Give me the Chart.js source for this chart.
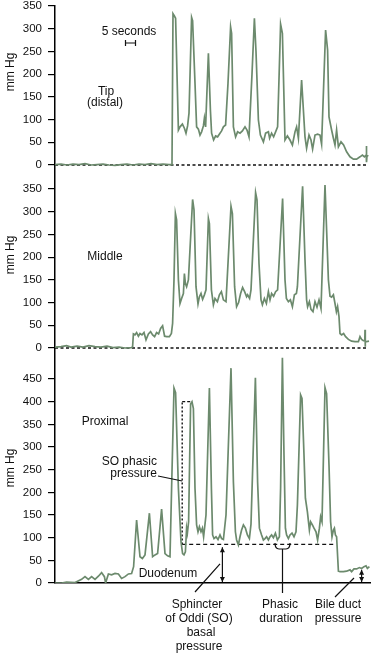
<!DOCTYPE html>
<html>
<head>
<meta charset="utf-8">
<script src="https://cdn.jsdelivr.net/npm/chart.js@4.4.0/dist/chart.umd.min.js"></script>
<style>
html, body { margin: 0; padding: 0; background: #fff; }
#wrap { position: relative; width: 375px; height: 656px; overflow: hidden; }
canvas { position: absolute; left: 0; }
</style>
</head>
<body>
<div id="wrap">
  <canvas id="tip" width="375" height="180" style="top:0px"></canvas>
  <canvas id="middle" width="375" height="175" style="top:180px"></canvas>
  <canvas id="proximal" width="375" height="301" style="top:355px"></canvas>
</div>
<script>
// tempo em segundos, pressao em mm Hg
const tipTime = [0,3,6,9,12,15,18,21,24,27,30,33,36,39,42,45,48,51,54,57,58.5,59,59.7,60.3,61.7,62.5,63.7,64.7,65.5,66.3,67,68.3,68.8,70,70.8,71.7,72.5,73.3,74.2,74.7,75.3,76.7,77.7,78.3,79.3,80.3,81.3,82.5,83.3,84.2,85.3,86.5,87.8,88.3,89.2,90.3,91.3,92.5,93.7,95,96,97,98.5,99.7,100.5,101.7,102.7,104.2,105.3,106.7,107.3,108.3,109.3,110.3,111.3,112.8,113.7,115,116.2,117.5,118.7,120,120.8,121.7,123.3,125,125.8,127,128,128.8,130,131.3,132.5,133.3,135.3,136.3,137,138.3,139.2,140,140.8,141.7,143,144.3,145.8,147.5,149.2,150.8,152.5,153.7,154.7,155.6,155.7,155.8,156,156.7]
const tipPressure = [1,2,0,2,1,3,0,1,2,0,-1,1,2,0,2,1,3,1,2,1,1,333,328,323,77,84,90,81,70,86,114,325,318,180,84,79,66,73,86,103,84,246,121,70,55,64,62,70,75,84,88,180,304,290,84,62,73,70,75,84,77,62,200,323,250,99,66,51,70,73,59,70,62,73,84,310,290,55,64,55,44,73,84,59,187,62,37,66,55,35,66,68,66,46,297,253,106,77,59,44,77,40,51,44,29,18,13,13,18,22,18,22,42,6,21,20]

const middleTime = [0,3,5.8,8,11,14,17,20,23,26,29,32,35,38.3,38.8,39.2,40,40.8,41.7,42.5,43.5,44.5,45.5,46.7,47.8,48.8,49.8,50.8,51.8,52.8,53.8,54.8,55.8,57.2,58.2,58.8,59.5,60.2,60.8,61.7,62.5,63.3,64.2,64.7,65.2,65.8,66.7,68.8,69.5,70.5,71.5,72.2,73,73.8,74.7,75.5,76.7,77.2,78.2,79.2,80,81.2,82.2,83.2,84.2,85.5,88,88.7,89.8,90.8,91.8,92.8,93.8,94.8,95.8,96.3,97.3,98,100.3,101,102,103,103.7,104.7,105.7,106.7,107.5,108.3,109.3,110.3,111.3,113.8,115,115.7,116.7,117.7,118.7,119.7,120.7,121.2,123.8,125,125.8,126.3,127.2,128,129,130,131,132,133,135,136.7,137.5,138.3,139.2,140,140.7,141.3,142,142.5,143.3,144.3,145.3,146.7,148.3,150,151.7,152.5,153.3,154.2,154.9,155,155.1,155.2,155.8,157]
const middlePressure = [2,3,5,2,4,2,5,3,2,4,1,2,0,1,3,31,29,34,26,32,29,34,18,31,36,29,25,34,31,43,49,26,25,25,32,54,150,296,282,150,98,109,120,164,142,135,150,327,304,135,97,113,120,107,117,128,285,274,128,95,109,102,117,124,106,102,312,296,135,91,100,120,133,124,113,117,109,128,342,326,186,106,95,109,98,124,106,120,114,124,128,329,150,109,102,106,91,117,120,135,356,194,106,91,102,85,80,102,90,106,87,359,150,114,112,117,98,80,91,69,32,29,32,25,19,15,14,14,25,19,16,16,40,3,15,14,15]

const proximalTime = [0,3.3,5.8,10,13.3,15,16.7,18.3,20,21.7,23.3,24.7,25.3,26.7,28.3,30,31.7,33.3,35,36.7,38.3,39.3,40.8,42.5,43.7,45,47.2,48.8,50,51.3,53.3,55,56.3,57.5,58.3,59.5,60.3,61.7,63,63.8,64.5,65.2,65.8,66.2,66.8,67.8,68.5,69.2,70,70.8,71.5,72.2,73,73.7,74.3,75.5,77.2,78.2,78.8,79.5,80.5,81.5,82.5,83.3,84.2,85.5,88,89.2,90.2,90.8,91.7,92.5,93.3,94.2,95.2,96.2,97.2,98,100.2,101.3,102.2,103.3,104.2,105,105.8,106.7,107.5,108.3,109.2,110.2,111.2,112.2,112.8,113.7,114.5,115.2,115.8,116.7,117.5,118.5,119.5,120.5,121.2,122.8,123.5,124.5,125.2,126.2,127.2,127.8,128.7,129.5,130.5,131.3,132.2,132.8,133.5,135,135.8,137,137.8,138.5,139.2,139.7,140.2,140.8,141.7,142.5,144.2,145.8,147.5,148.3,149.5,150.8,152.2,153.3,154.5,155.5,156.2,157.2]
const proximalPressure = [0,0,2,1,8,14,8,14,8,15,23,14,0,20,18,21,20,10,14,20,21,36,139,58,54,62,154,58,62,65,163,65,60,58,209,430,420,209,91,65,62,69,121,110,135,395,400,385,209,128,113,124,113,121,102,150,430,209,106,98,102,96,106,98,96,150,474,223,113,95,84,102,117,128,121,106,98,130,453,223,121,106,95,98,102,95,102,106,100,110,95,102,209,497,282,121,106,98,106,110,102,113,172,415,407,282,187,157,117,135,128,121,113,95,121,146,135,431,418,260,135,102,117,121,106,102,26,25,25,26,29,25,31,31,34,32,36,38,32,36]

const ticks350 = [0, 50, 100, 150, 200, 250, 300, 350]
const ticks450 = [0, 50, 100, 150, 200, 250, 300, 350, 400, 450]

const tempoMax = 157.5
const fimLinhaZero = 156.5
const escalaInicio = 35.25      // barra de 5 segundos
const escalaDuracao = 5
const basalPressure = 85        // SO basal
const phasicTop = 400           // SO phasic
const phasicStart = 63.6
const phasicPeakEnd = 68.3
const basalEnd = 140
const duracaoInicio = 110
const duracaoFim = 117.5
const setaBasalTempo = 83.7
const bileTempo = 153.3
const bilePressure = 29

const cor_traco = '#6c8a6d'
const fonte = '"Liberation Sans", Arial, sans-serif'

function serie(tempos, valores){
    return tempos.map((t, i) => ({x: t, y: valores[i]}))
}

function traco(tempos, valores){
    return { data: serie(tempos, valores), borderColor: cor_traco, borderWidth: 1.7, order: 0 }
}

function tracejado(pontos, dash, largura){
    return { data: pontos, borderColor: '#111', borderWidth: largura, borderDash: dash, order: 1 }
}

function rotulo_mmhg(ctx, y){
    ctx.save()
    ctx.translate(11, y)
    ctx.rotate(-Math.PI / 2)
    ctx.textAlign = 'center'
    ctx.textBaseline = 'middle'
    ctx.font = '12px ' + fonte
    ctx.fillStyle = '#111'
    ctx.fillText('mm Hg', 0, 0)
    ctx.restore()
}

function texto(ctx, s, x, y, align){
    ctx.textAlign = align || 'center'
    ctx.fillText(s, x, y)
}

function seta_dupla(ctx, x, y1, y2){
    ctx.beginPath()
    ctx.moveTo(x, y1); ctx.lineTo(x, y2)
    ctx.stroke()
    ctx.beginPath()
    ctx.moveTo(x, y1); ctx.lineTo(x - 2.5, y1 + 5); ctx.lineTo(x + 2.5, y1 + 5); ctx.closePath()
    ctx.moveTo(x, y2); ctx.lineTo(x - 2.5, y2 - 5); ctx.lineTo(x + 2.5, y2 - 5); ctx.closePath()
    ctx.fill()
}

function renderiza_painel(id, datasets, yMin, yMax, yTicks, padTop, padBottom, mostraEixoX, desenho){
    const ctx = document.getElementById(id).getContext('2d')
    return new Chart(ctx, {
        type: 'line',
        data: { datasets: datasets },
        options: {
            responsive: false,
            animation: false,
            events: [],
            layout: { padding: { top: padTop, bottom: padBottom, left: 0, right: 5 } },
            plugins: { legend: { display: false }, tooltip: { enabled: false } },
            elements: { point: { radius: 0 }, line: { tension: 0 } },
            scales: {
                x: {
                    type: 'linear', min: 0, max: tempoMax, display: mostraEixoX,
                    ticks: { display: false },
                    grid: { display: false },
                    border: { display: true, color: '#000', width: 1.5 },
                    afterFit: s => { s.height = 0 }
                },
                y: {
                    min: yMin, max: yMax,
                    afterBuildTicks: s => { s.ticks = yTicks.map(v => ({ value: v })) },
                    afterFit: s => { s.width = 55; s.paddingTop = 0; s.paddingBottom = 0 },
                    ticks: { color: '#111', font: { family: fonte, size: 11.5 }, padding: 6 },
                    grid: { drawOnChartArea: false, drawTicks: true, tickLength: 7, color: '#000', lineWidth: 1.2 },
                    border: { display: true, color: '#000', width: 1.5 }
                }
            }
        },
        plugins: [{ id: 'anot_' + id, afterDraw: desenho }]
    })
}

const linhaZero = [{ x: 0, y: 0 }, { x: fimLinhaZero, y: 0 }]

renderiza_painel('tip',
    [traco(tipTime, tipPressure), tracejado(linhaZero, [3, 2.5], 1.3)],
    -33, 350, ticks350, 6, 0, false,
    function(chart){
        const {ctx, scales: {x}} = chart
        ctx.save()
        ctx.fillStyle = '#111'
        ctx.strokeStyle = '#111'
        ctx.font = '12px ' + fonte
        ctx.textBaseline = 'middle'
        texto(ctx, '5 seconds', 129, 32)
        texto(ctx, 'Tip', 106, 92)
        texto(ctx, '(distal)', 105, 103)
        const x1 = x.getPixelForValue(escalaInicio)
        const x2 = x.getPixelForValue(escalaInicio + escalaDuracao)
        ctx.lineWidth = 1.2
        ctx.beginPath()
        ctx.moveTo(x1, 43); ctx.lineTo(x2, 43)
        ctx.moveTo(x1, 40); ctx.lineTo(x1, 46)
        ctx.moveTo(x2, 40); ctx.lineTo(x2, 46)
        ctx.stroke()
        rotulo_mmhg(ctx, 72)
        ctx.restore()
    })

renderiza_painel('middle',
    [traco(middleTime, middlePressure), tracejado(linhaZero, [3, 2.5], 1.3)],
    -15.4, 369.8, ticks350, 0, 0, false,
    function(chart){
        const {ctx} = chart
        ctx.save()
        ctx.fillStyle = '#111'
        ctx.font = '12px ' + fonte
        ctx.textBaseline = 'middle'
        texto(ctx, 'Middle', 105, 77)
        rotulo_mmhg(ctx, 75)
        ctx.restore()
    })

renderiza_painel('proximal',
    [traco(proximalTime, proximalPressure),
     tracejado([{ x: phasicStart, y: basalPressure }, { x: phasicStart, y: phasicTop }], [2, 2], 1.4),
     tracejado([{ x: phasicStart, y: phasicTop }, { x: phasicPeakEnd, y: phasicTop }], [3, 2], 1.3),
     tracejado([{ x: phasicStart, y: basalPressure }, { x: basalEnd, y: basalPressure }], [4, 3], 1.2)],
    0, 503, ticks450, 0, 73, true,
    function(chart){
        const {ctx, scales: {x, y}} = chart
        ctx.save()
        ctx.fillStyle = '#111'
        ctx.strokeStyle = '#111'
        ctx.font = '12px ' + fonte
        ctx.textBaseline = 'middle'
        texto(ctx, 'Proximal', 105, 67)
        texto(ctx, 'SO phasic', 157, 107, 'right')
        texto(ctx, 'pressure', 157, 119, 'right')
        texto(ctx, 'Duodenum', 168, 219)
        texto(ctx, 'Sphincter', 197, 250)
        texto(ctx, 'of Oddi (SO)', 199, 264)
        texto(ctx, 'basal', 201, 278)
        texto(ctx, 'pressure', 199, 292)
        texto(ctx, 'Phasic', 280, 250)
        texto(ctx, 'duration', 281, 264)
        texto(ctx, 'Bile duct', 338, 250)
        texto(ctx, 'pressure', 338, 264)

        ctx.lineWidth = 1.2
        // linhas guia
        ctx.beginPath()
        ctx.moveTo(158, 121); ctx.lineTo(x.getPixelForValue(phasicStart), y.getPixelForValue(225))
        ctx.moveTo(195, 237); ctx.lineTo(x.getPixelForValue(82.5), y.getPixelForValue(42))
        ctx.moveTo(335, 242); ctx.lineTo(x.getPixelForValue(149.5), y.getPixelForValue(11))
        ctx.stroke()

        // duracao fasica
        const xl = x.getPixelForValue(duracaoInicio)
        const xr = x.getPixelForValue(duracaoFim)
        const xc = (xl + xr) / 2
        const yt = y.getPixelForValue(basalPressure + 3)
        const yb = y.getPixelForValue(basalPressure - 10)
        ctx.beginPath()
        ctx.moveTo(xl, yt)
        ctx.quadraticCurveTo(xl, yb, xl + 4, yb)
        ctx.lineTo(xr - 4, yb)
        ctx.quadraticCurveTo(xr, yb, xr, yt)
        ctx.moveTo(xc, yb); ctx.lineTo(xc, 238)
        ctx.stroke()

        seta_dupla(ctx, x.getPixelForValue(setaBasalTempo), y.getPixelForValue(basalPressure - 6), y.getPixelForValue(2))
        seta_dupla(ctx, x.getPixelForValue(bileTempo), y.getPixelForValue(bilePressure), y.getPixelForValue(2))

        rotulo_mmhg(ctx, 113)
        ctx.restore()
    })
</script>
</body>
</html>
